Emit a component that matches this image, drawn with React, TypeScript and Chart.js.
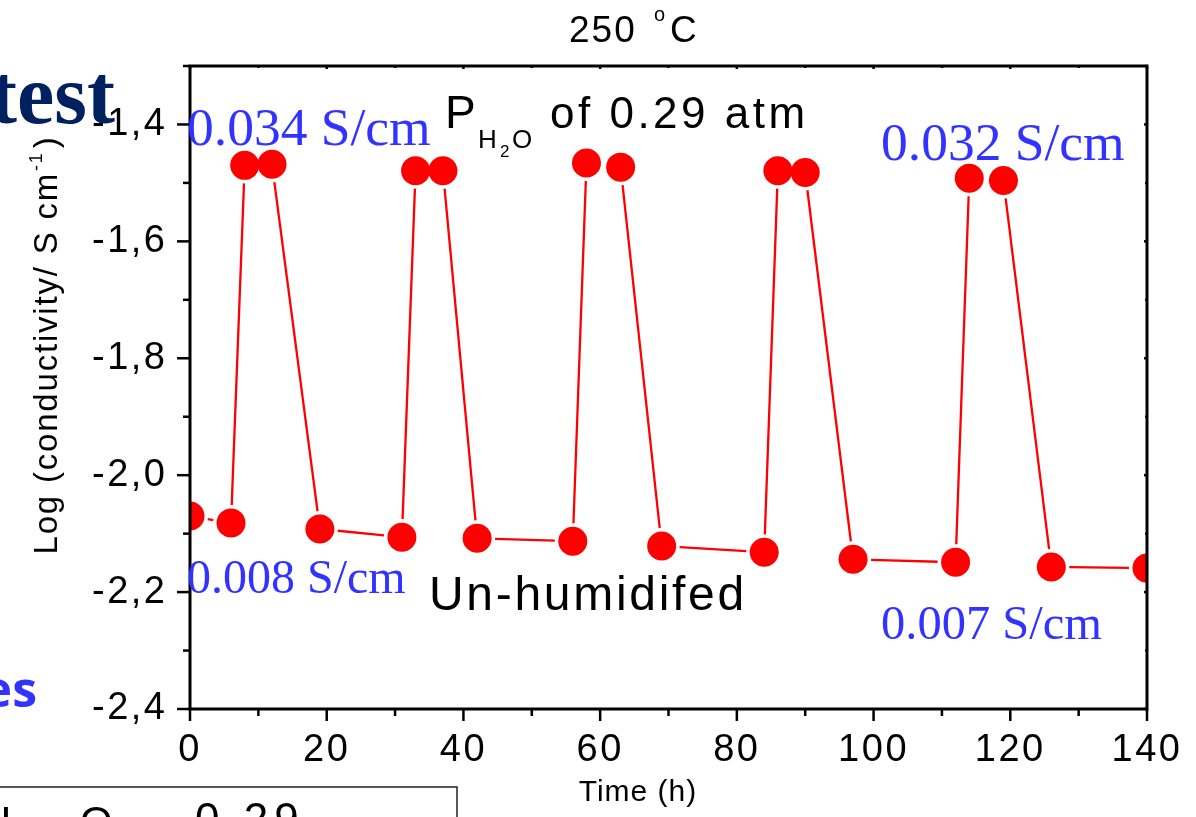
import React, { useEffect, useRef } from 'react';
import { Chart, registerables } from 'chart.js';

Chart.register(...registerables);

// ---- data ----
const timeHours = [0, 6, 8, 12, 19, 31, 33, 37, 42, 56, 58, 63, 69, 84, 86, 90, 97, 112, 114, 119, 126, 140];
const logConductivity = [
  -2.07, -2.082, -1.47, -1.468, -2.092, -2.106, -1.479, -1.479, -2.108, -2.113, -1.466,
  -1.473, -2.121, -2.132, -1.479, -1.482, -2.144, -2.149, -1.492, -1.496, -2.157, -2.159,
];
const xTickValues = [0, 20, 40, 60, 80, 100, 120, 140];
const xMinorTickValues = [10, 30, 50, 70, 90, 110, 130];
const yTickValues = [-2.4, -2.2, -2.0, -1.8, -1.6, -1.4];
const yMinorTickValues = [-2.3, -2.1, -1.9, -1.7, -1.5, -1.3];

const SANS = "'Liberation Sans', Arial, sans-serif";
const SERIF = "'Liberation Serif', 'Times New Roman', serif";
const BLUE = '#3333ff';

function txt(
  ctx: CanvasRenderingContext2D,
  s: string,
  x: number,
  y: number,
  font: string,
  color: string,
  align: CanvasTextAlign = 'left',
  spacing = 0,
) {
  ctx.save();
  (ctx as any).letterSpacing = spacing + 'px';
  ctx.font = font;
  ctx.fillStyle = color;
  ctx.textAlign = align;
  ctx.textBaseline = 'alphabetic';
  ctx.fillText(s, x, y);
  ctx.restore();
}

const decorPlugin = {
  id: 'decor',
  beforeDraw(chart: any) {
    (chart.ctx as any).letterSpacing = '2.5px';
  },
  beforeDatasetsDraw(chart: any) {
    const ctx: CanvasRenderingContext2D = chart.ctx;
    const area = chart.chartArea;
    const pts = chart.getDatasetMeta(0).data;
    const gap = 18;
    ctx.save();
    ctx.beginPath();
    ctx.rect(area.left, area.top, area.right - area.left, area.bottom - area.top);
    ctx.clip();
    ctx.strokeStyle = '#ff0000';
    ctx.lineWidth = 2.3;
    for (let i = 0; i < pts.length - 1; i++) {
      const a = pts[i];
      const b = pts[i + 1];
      const dx = b.x - a.x;
      const dy = b.y - a.y;
      const len = Math.hypot(dx, dy);
      if (len <= gap * 2 + 2) continue;
      const ux = dx / len;
      const uy = dy / len;
      ctx.beginPath();
      ctx.moveTo(a.x + ux * gap, a.y + uy * gap);
      ctx.lineTo(b.x - ux * gap, b.y - uy * gap);
      ctx.stroke();
    }
    ctx.restore();
  },
  afterDraw(chart: any) {
    const ctx: CanvasRenderingContext2D = chart.ctx;
    (ctx as any).letterSpacing = '0px';
    const area = chart.chartArea;
    const xs = chart.scales.x;
    const ys = chart.scales.y;
    const L = area.left, R = area.right, T = area.top, B = area.bottom;

    ctx.save();
    ctx.strokeStyle = '#000';
    ctx.lineWidth = 2.5;
    ctx.lineCap = 'butt';
    const line = (x1: number, y1: number, x2: number, y2: number) => {
      ctx.beginPath();
      ctx.moveTo(x1, y1);
      ctx.lineTo(x2, y2);
      ctx.stroke();
    };
    yTickValues.forEach((v) => {
      const y = ys.getPixelForValue(v);
      line(L - 13, y, L, y);
      line(R - 3, y, R, y);
    });
    yMinorTickValues.forEach((v) => {
      const y = ys.getPixelForValue(v);
      line(L - 7, y, L, y);
      line(R - 2, y, R, y);
    });
    xTickValues.forEach((v) => {
      const x = xs.getPixelForValue(v);
      line(x, B, x, B + 12);
      line(x, T, x, T + 3);
    });
    xMinorTickValues.forEach((v) => {
      const x = xs.getPixelForValue(v);
      line(x, B, x, B + 7);
      line(x, T, x, T + 2);
    });
    ctx.lineWidth = 3;
    ctx.strokeRect(L, T, R - L, B - T);
    ctx.restore();

    // title "250 °C"
    txt(ctx, '250', 569, 42, `37px ${SANS}`, '#000', 'left', 2);
    txt(ctx, 'o', 654, 21, `20px ${SANS}`, '#000', 'left', 0);
    txt(ctx, 'C', 670, 42, `37px ${SANS}`, '#000', 'left', 0);

    // x axis title
    txt(ctx, 'Time (h)', 638, 801, `30px ${SANS}`, '#000', 'center', 1);

    // y axis title (rotated)
    ctx.save();
    ctx.translate(57, 345);
    ctx.rotate(-Math.PI / 2);
    (ctx as any).letterSpacing = '1.8px';
    ctx.font = `33px ${SANS}`;
    const main = 'Log (conductivity/ S cm';
    const w1 = ctx.measureText(main).width;
    ctx.font = `18px ${SANS}`;
    const w2 = ctx.measureText('-1').width + 4;
    ctx.font = `33px ${SANS}`;
    const w3 = ctx.measureText(')').width;
    const start = -(w1 + w2 + w3) / 2;
    ctx.fillStyle = '#000';
    ctx.textBaseline = 'alphabetic';
    ctx.textAlign = 'left';
    ctx.fillText(main, start, 0);
    ctx.font = `18px ${SANS}`;
    ctx.fillText('-1', start + w1 + 1, -15);
    ctx.font = `33px ${SANS}`;
    ctx.fillText(')', start + w1 + w2, 0);
    ctx.restore();

    // annotations
    txt(ctx, '0.034 S/cm', 187, 145, `53.5px ${SERIF}`, BLUE);
    txt(ctx, '0.032 S/cm', 881, 160, `53.5px ${SERIF}`, BLUE);
    txt(ctx, '0.008 S/cm', 187, 593, `48px ${SERIF}`, BLUE);
    txt(ctx, '0.007 S/cm', 881, 639, `48.5px ${SERIF}`, BLUE);

    txt(ctx, 'P', 445, 128, `46px ${SANS}`, '#000');
    txt(ctx, 'H', 478, 148, `26px ${SANS}`, '#000');
    txt(ctx, '2', 500, 157, `17px ${SANS}`, '#000');
    txt(ctx, 'O', 512, 148, `26px ${SANS}`, '#000');
    txt(ctx, 'of 0.29 atm', 550, 128, `44px ${SANS}`, '#000', 'left', 3.5);
    txt(ctx, 'Un-humidifed', 429, 610, `48px ${SANS}`, '#000', 'left', 2.7);

    // cropped slide fragments around the chart
    txt(ctx, 'test', 115, 123, `bold 84px ${SERIF}`, '#002060', 'right');
    txt(ctx, 'es', 37, 707, `bold 50px 'Open Sans', ${SANS}`, BLUE, 'right');

    ctx.save();
    ctx.strokeStyle = '#222';
    ctx.lineWidth = 1.5;
    ctx.beginPath();
    ctx.moveTo(0, 787);
    ctx.lineTo(457, 787);
    ctx.lineTo(457, 817);
    ctx.stroke();
    ctx.restore();
    txt(ctx, 'H', -19, 836, `42px ${SANS}`, '#000');
    txt(ctx, 'O', 80, 836, `42px ${SANS}`, '#000');
    txt(ctx, '0.29', 195, 834, `44px ${SANS}`, '#000', 'left', 6);
  },
};

export default function App() {
  const ref = useRef<HTMLCanvasElement | null>(null);

  useEffect(() => {
    if (!ref.current) return;
    const chart = new Chart(ref.current, {
      type: 'line',
      data: {
        datasets: [
          {
            data: timeHours.map((t, i) => ({ x: t, y: logConductivity[i] })),
            showLine: false,
            pointRadius: 14.5,
            pointHoverRadius: 14.5,
            pointBackgroundColor: '#ff0000',
            pointBorderWidth: 0,
            borderColor: '#ff0000',
            clip: 0,
          } as any,
        ],
      },
      options: {
        responsive: false,
        animation: false,
        devicePixelRatio: 1,
        events: [],
        layout: { padding: { top: 66, right: 49, left: 0, bottom: 0 } },
        plugins: { legend: { display: false }, tooltip: { enabled: false }, title: { display: false } },
        scales: {
          x: {
            type: 'linear',
            min: 0,
            max: 140,
            afterBuildTicks: (s: any) => {
              s.ticks = xTickValues.map((v) => ({ value: v }));
            },
            afterFit: (s: any) => {
              s.height = 108;
            },
            grid: { display: false, drawTicks: true, tickLength: 13 },
            border: { display: false },
            ticks: {
              autoSkip: false,
              maxRotation: 0,
              padding: 6,
              color: '#000',
              font: { family: SANS, size: 38 },
              callback: (v: any) => String(v),
            },
          },
          y: {
            type: 'linear',
            min: -2.4,
            max: -1.3,
            afterBuildTicks: (s: any) => {
              s.ticks = yTickValues.map((v) => ({ value: v }));
            },
            afterFit: (s: any) => {
              s.width = 190;
            },
            grid: { display: false, drawTicks: true, tickLength: 13 },
            border: { display: false },
            ticks: {
              padding: 9.5,
              color: '#000',
              font: { family: SANS, size: 38 },
              callback: (v: any) => Number(v).toFixed(1).replace('.', ','),
            },
          },
        },
      },
      plugins: [decorPlugin],
    } as any);
    return () => chart.destroy();
  }, []);

  return (
    <div style={{ position: 'absolute', left: 0, top: 0, width: 1196, height: 817, background: '#fff' }}>
      <canvas ref={ref} width={1196} height={817} style={{ display: 'block', width: 1196, height: 817 }} />
    </div>
  );
}
